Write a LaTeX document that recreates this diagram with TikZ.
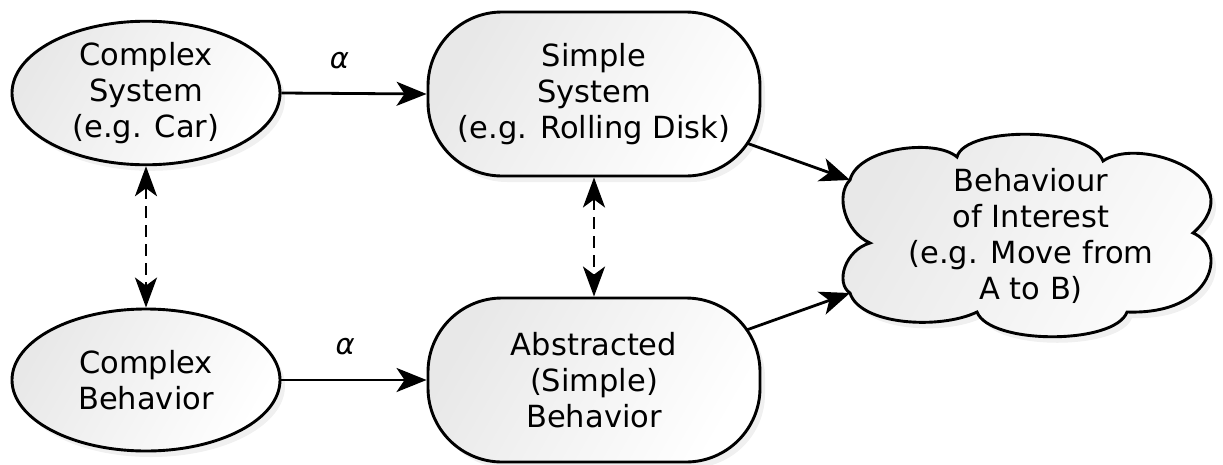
\documentclass[tikz,border=0pt]{standalone}
\usepackage{fontspec}
\setmainfont{DejaVu Sans}
\usetikzlibrary{arrows.meta,calc,shapes.geometric,shadows}
\begin{document}
\begin{tikzpicture}[x=1pt,y=-1pt,
  every node/.style={font=\fontsize{30.5}{36}\selectfont, align=center},
  boxfill/.style={draw=black, line width=2.9pt,
    left color=black!9, right color=white, shading angle=60,
    drop shadow={opacity=0.12, shadow xshift=5pt, shadow yshift=-6pt}},
  ovalbox/.style={boxfill, ellipse, minimum width=268pt, minimum height=142pt, inner sep=0pt},
  pillbox/.style={boxfill, rectangle, rounded corners=74pt, minimum width=332pt, minimum height=164pt, inner sep=0pt},
  flow/.style={line width=2.8pt, -{Stealth[length=30pt,width=24pt,inset=8pt]}},
  link/.style={line width=2.8pt, dash pattern=on 12pt off 7pt,
    {Stealth[length=30pt,width=22pt,inset=8pt]}-{Stealth[length=30pt,width=22pt,inset=8pt]}},
  lbl/.style={font=\fontsize{29}{34}\selectfont\itshape}
]
\useasboundingbox (0,0) rectangle (1223,464);

% cloud outline for the behaviour of interest
\path[boxfill] (850,180)
  .. controls (858,148) and (935,138) .. (957,157)
  .. controls (965,126) and (1090,126) .. (1103,161)
  .. controls (1140,135) and (1255,178) .. (1193,233)
  .. controls (1228,248) and (1215,315) .. (1127,312)
  .. controls (1115,345) and (990,345) .. (977,312)
  .. controls (940,330) and (860,325) .. (850,293)
  .. controls (835,283) and (845,250) .. (870,243)
  .. controls (845,232) and (835,195) .. (850,180) -- cycle;
\coordinate (goalup) at (850,180);
\coordinate (goallow) at (850,293);

% systems and behaviours
\node[ovalbox] (csys) at (146,93) {Complex\\System\\(e.g. Car)};
\node[ovalbox] (cbeh) at (146,380) {Complex\\Behavior};
\node[pillbox] (ssys) at (594,94) {Simple\\System\\(e.g. Rolling Disk)};
\node[pillbox] (abeh) at (594,380) {Abstracted\\(Simple)\\Behavior};
\node (goal) at (1031,236) {Behaviour\\of Interest\\(e.g. Move from\\A to B)};

% abstraction arrows
\draw[flow] (csys.east) -- (ssys.west) node[lbl, pos=0.4, above=20pt] {α};
\draw[flow] (cbeh.east) -- (abeh.west) node[lbl, pos=0.44, above=20pt] {α};

% correspondences
\draw[link] (csys.south) -- (cbeh.north);
\draw[link] (ssys.south) -- (abeh.north);

% both lead to the behaviour of interest
\coordinate (ssysout) at ($(ssys.east)+(-15,49)$);
\coordinate (abehout) at ($(abeh.east)+(-15,-50)$);
\draw[flow] (ssysout) -- (goalup);
\draw[flow] (abehout) -- (goallow);
\end{tikzpicture}
\end{document}
